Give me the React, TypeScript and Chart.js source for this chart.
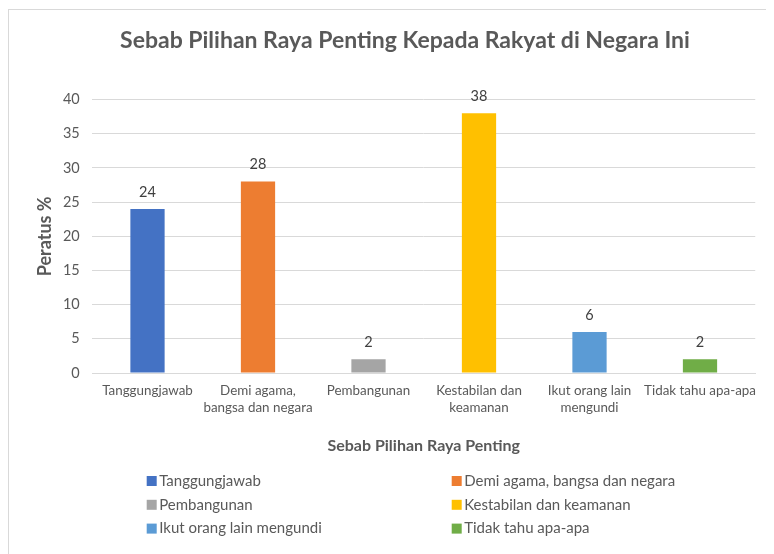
import React, { useEffect, useRef } from "react";
import { Chart, registerables } from "chart.js";

Chart.register(...registerables);

const chartTitle = "Sebab Pilihan Raya Penting Kepada Rakyat di Negara Ini";
const xAxisTitle = "Sebab Pilihan Raya Penting";
const yAxisTitle = "Peratus %";

const categories = [
  "Tanggungjawab",
  "Demi agama, bangsa dan negara",
  "Pembangunan",
  "Kestabilan dan keamanan",
  "Ikut orang lain mengundi",
  "Tidak tahu apa-apa",
];

const tickLabels = [
  ["Tanggungjawab"],
  ["Demi agama,", "bangsa dan negara"],
  ["Pembangunan"],
  ["Kestabilan dan", "keamanan"],
  ["Ikut orang lain", "mengundi"],
  ["Tidak tahu apa-apa"],
];

const values = [24, 28, 2, 38, 6, 2];

const barColors = ["#4472C4", "#ED7D31", "#A5A5A5", "#FFC000", "#5B9BD5", "#70AD47"];

const yMin = 0;
const yMax = 40;
const yStep = 5;

const FONT = "Lato, 'Open Sans', sans-serif";
const TEXT = "#595959";

const dataLabelPlugin = {
  id: "dataLabels",
  afterDatasetsDraw(chart: any) {
    const ctx = chart.ctx;
    const meta = chart.getDatasetMeta(0);
    ctx.save();
    ctx.font = `14.5px ${FONT}`;
    ctx.fillStyle = "#404040";
    ctx.textAlign = "center";
    ctx.textBaseline = "middle";
    meta.data.forEach((el: any, i: number) => {
      ctx.fillText(String(values[i]), el.x, el.y - 17);
    });
    ctx.restore();
  },
};

const legendPlugin = {
  id: "gridLegend",
  afterDraw(chart: any) {
    const ctx = chart.ctx;
    const colX = [137.7, 442.7];
    const rowY0 = 471;
    const rowGap = 23.8;
    ctx.save();
    ctx.font = `15px ${FONT}`;
    ctx.textAlign = "left";
    ctx.textBaseline = "middle";
    categories.forEach((name, i) => {
      const col = i % 2;
      const row = Math.floor(i / 2);
      const x = colX[col];
      const y = rowY0 + row * rowGap;
      ctx.fillStyle = barColors[i];
      ctx.fillRect(x, y - 5, 10, 10);
      ctx.fillStyle = TEXT;
      ctx.fillText(name, x + 12.5, y);
    });
    ctx.restore();
  },
};

export default function App() {
  const canvasRef = useRef<HTMLCanvasElement | null>(null);

  useEffect(() => {
    if (!canvasRef.current) return;
    Chart.defaults.font.family = FONT;
    const chart = new Chart(canvasRef.current, {
      type: "bar",
      data: {
        labels: tickLabels as any,
        datasets: [
          {
            data: values,
            backgroundColor: barColors,
            borderWidth: 0,
            categoryPercentage: 1,
            barPercentage: 0.31,
          },
        ],
      },
      options: {
        animation: false,
        responsive: true,
        maintainAspectRatio: false,
        layout: { padding: { left: 0, right: 0, top: 0, bottom: 91 } },
        plugins: {
          legend: { display: false },
          tooltip: { enabled: false },
          title: {
            display: true,
            text: chartTitle,
            color: TEXT,
            font: { size: 23, weight: "bold", family: FONT, lineHeight: 1.2 },
            padding: { top: 17, bottom: 45 },
          },
        },
        scales: {
          x: {
            grid: { display: false, drawTicks: false },
            border: { display: true, color: "#D9D9D9", width: 1 },
            ticks: {
              color: TEXT,
              font: { size: 13.4, family: FONT, lineHeight: 1.28 },
              padding: 9,
              maxRotation: 0,
              autoSkip: false,
            },
            title: {
              display: true,
              text: xAxisTitle,
              color: TEXT,
              font: { size: 16, weight: "bold", family: FONT, lineHeight: 1.2 },
              padding: { top: 0, bottom: 7.5 },
            },
            afterFit(scale: any) {
              scale.height = 90;
            },
          },
          y: {
            min: yMin,
            max: yMax,
            ticks: {
              stepSize: yStep,
              color: TEXT,
              font: { size: 14.5, family: FONT },
              padding: 12.5,
            },
            grid: { color: "#D9D9D9", lineWidth: 1, drawTicks: false },
            border: { display: false },
            title: {
              display: true,
              text: yAxisTitle,
              color: TEXT,
              font: { size: 18, weight: "bold", family: FONT, lineHeight: 1.2 },
              padding: { top: 25.5, bottom: 0 },
            },
            afterFit(scale: any) {
              scale.width = 83.25;
            },
          },
          yPad: {
            type: "linear",
            position: "right",
            display: true,
            grid: { display: false, drawTicks: false },
            border: { display: false },
            ticks: { display: false },
            afterFit(scale: any) {
              scale.width = 45.75;
            },
          },
        },
      } as any,
      plugins: [dataLabelPlugin, legendPlugin],
    });
    return () => chart.destroy();
  }, []);

  return (
    <div
      style={{
        width: 766,
        height: 545,
        marginTop: 1,
        overflow: "hidden",
        borderTop: "1px solid #D9D9D9",
        borderLeft: "1px solid #D9D9D9",
        boxSizing: "border-box",
        background: "#FFFFFF",
      }}
    >
      <div style={{ position: "relative", width: 792, height: 544 }}>
        <canvas ref={canvasRef} />
      </div>
    </div>
  );
}
